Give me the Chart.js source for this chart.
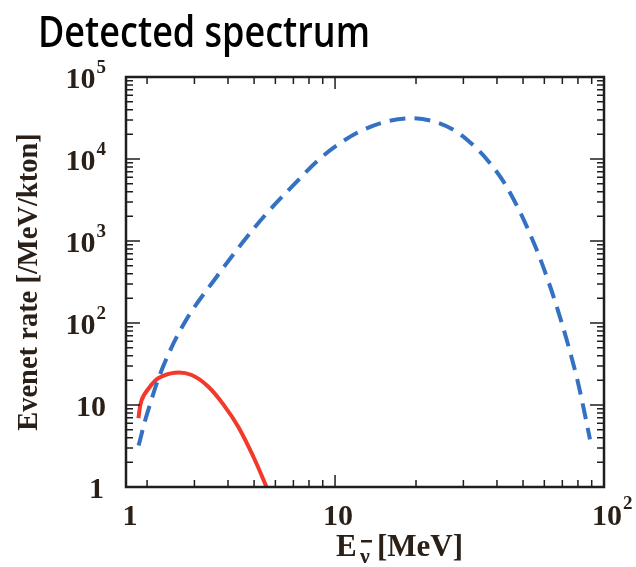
<!DOCTYPE html>
<html>
<head>
<meta charset="utf-8">
<script src="https://cdn.jsdelivr.net/npm/chart.js@4/dist/chart.umd.min.js"></script>
<style>
  html, body { margin: 0; padding: 0; background: #fff; }
  #wrap { width: 636px; height: 567px; }
</style>
</head>
<body>
<div id="wrap"><canvas id="spec"></canvas></div>
<script>
// energy [MeV] and event rate [/MeV/kton]
const blueE = [1.86, 2.0, 2.3, 2.8, 3.63, 4.5, 5.5, 7.0, 8.67, 10.4, 12.7, 15.8, 19.5, 23.9, 28.3, 33.1,
  37.7, 42.3, 47.3, 51.3, 56.2, 61.2, 66.7, 72.6, 79.1, 83.7, 88.7];
const blueRate = [3.2, 7.8, 30, 110, 367, 930, 2075, 4800, 9700, 15500, 22600, 29000, 31400, 28000, 21500, 14100,
  8870, 5290, 2750, 1570, 780, 370, 159, 63, 22, 9.6, 3.8];

const redE = [1.857, 1.91, 2.05, 2.2, 2.54, 2.93, 3.38, 3.9, 4.37, 4.97, 5.6];
const redRate = [6.9, 11.5, 16.7, 21.2, 24.8, 23.2, 16.7, 9.5, 5.4, 2.34, 0.95];

const xTicks = [2, 3, 4, 5, 6, 7, 8, 9, 10, 20, 30, 40, 50, 60, 70, 80, 90, 100];
const yTicks = [1, 2, 3, 4, 5, 6, 7, 8, 9, 10, 20, 30, 40, 50, 60, 70, 80, 90,
  100, 200, 300, 400, 500, 600, 700, 800, 900, 1000, 2000, 3000, 4000, 5000, 6000, 7000, 8000, 9000,
  10000, 20000, 30000, 40000, 50000, 60000, 70000, 80000, 90000, 100000];

const xMin = 1.67; // left edge of the plot, labelled "1" in the figure

function toPoints(xs, ys) {
  return xs.map((x, i) => ({ x: x, y: ys[i] }));
}

function isDecade(v) {
  const l = Math.log10(v);
  return Math.abs(l - Math.round(l)) < 1e-6;
}

const serif = '"Liberation Serif", "Times New Roman", serif';
const inkColor = '#2a2018';
const bigFont = 'bold 30px ' + serif;
const supFont = 'bold 19px ' + serif;

// frame, inward ticks on all four sides, tick labels, title and x label
const framePlugin = {
  id: 'frame',
  afterDraw(chart) {
    const ctx = chart.ctx;
    const a = chart.chartArea;
    const xs = chart.scales.x, ys = chart.scales.y;
    ctx.save();
    ctx.strokeStyle = '#1e1e1e';
    ctx.lineWidth = 1.5;
    xs.ticks.forEach(t => {
      if (t.value <= xMin || t.value >= 100) return;
      const px = xs.getPixelForValue(t.value);
      const len = isDecade(t.value) ? 12 : 7;
      ctx.beginPath();
      ctx.moveTo(px, a.bottom); ctx.lineTo(px, a.bottom - len);
      ctx.moveTo(px, a.top); ctx.lineTo(px, a.top + len);
      ctx.stroke();
    });
    ys.ticks.forEach(t => {
      if (t.value <= 1 || t.value >= 100000) return;
      const py = ys.getPixelForValue(t.value);
      const len = isDecade(t.value) ? 14 : 7;
      ctx.beginPath();
      ctx.moveTo(a.left, py); ctx.lineTo(a.left + len, py);
      ctx.moveTo(a.right, py); ctx.lineTo(a.right - len, py);
      ctx.stroke();
    });
    ctx.lineWidth = 2.5;
    ctx.strokeRect(a.left, a.top, a.right - a.left, a.bottom - a.top);

    // y tick labels, right aligned
    ctx.fillStyle = inkColor;
    ctx.textBaseline = 'alphabetic';
    ys.ticks.forEach(t => {
      if (!isDecade(t.value)) return;
      const py = ys.getPixelForValue(t.value);
      const e = Math.round(Math.log10(t.value));
      const right = 106;
      if (e <= 1) {
        ctx.font = bigFont;
        ctx.textAlign = 'right';
        ctx.fillText(e === 0 ? '1' : '10', e === 0 ? right - 2 : right, py + 10.5);
        return;
      }
      ctx.font = supFont;
      const ew = ctx.measureText(String(e)).width;
      ctx.textAlign = 'right';
      ctx.fillText(String(e), right, py - 4);
      ctx.font = bigFont;
      ctx.fillText('10', right - ew - 1, py + 10.5);
    });

    // x tick labels
    const base = a.bottom + 38;
    ctx.font = bigFont;
    ctx.textAlign = 'center';
    ctx.fillText('1', xs.getPixelForValue(xMin) + 4, base);
    ctx.fillText('10', xs.getPixelForValue(10) + 3, base);
    const x100 = xs.getPixelForValue(100);
    ctx.textAlign = 'left';
    ctx.fillText('10', x100 - 12, base);
    const w10 = ctx.measureText('10').width;
    ctx.font = supFont;
    ctx.fillText('2', x100 - 12 + w10 + 1, base - 16);

    // x axis label: E with anti-neutrino subscript
    ctx.font = 'bold 31px ' + serif;
    ctx.fillText('E', 336, 556);
    ctx.font = 'bold 22px ' + serif;
    ctx.fillText('\u03bd', 360, 563);
    ctx.fillRect(361, 540, 11, 2.5);
    ctx.font = 'bold 31px ' + serif;
    ctx.fillText('[MeV]', 377, 556);

    // title
    ctx.fillStyle = '#000';
    ctx.font = '600 44px "Open Sans", "Noto Sans", sans-serif';
    const title = 'Detected spectrum';
    const tw = ctx.measureText(title).width;
    ctx.translate(38, 47);
    ctx.scale(332 / tw, 1);
    ctx.fillText(title, 0, 0);
    ctx.restore();
  }
};

const ctx = document.getElementById('spec').getContext('2d');
new Chart(ctx, {
  type: 'line',
  data: {
    datasets: [
      {
        label: 'dashed',
        data: toPoints(blueE, blueRate),
        borderColor: '#3571c2',
        borderWidth: 4,
        borderDash: [16, 9],
        pointRadius: 0,
        tension: 0.35,
        fill: false
      },
      {
        label: 'solid',
        data: toPoints(redE, redRate),
        borderColor: '#f2392b',
        borderWidth: 4,
        pointRadius: 0,
        tension: 0.4,
        fill: false
      }
    ]
  },
  options: {
    responsive: true,
    maintainAspectRatio: false,
    animation: false,
    layout: { padding: { top: 77, right: 32, bottom: 0, left: 0 } },
    plugins: {
      legend: { display: false },
      tooltip: { enabled: false },
      title: { display: false }
    },
    scales: {
      x: {
        type: 'logarithmic',
        min: xMin,
        max: 100,
        grid: { display: false, drawTicks: false },
        border: { display: false },
        afterFit(scale) { scale.height = 80; },
        afterBuildTicks(scale) {
          scale.ticks = [xMin].concat(xTicks).map(v => ({ value: v }));
        },
        ticks: { display: false, autoSkip: false }
      },
      y: {
        type: 'logarithmic',
        min: 1,
        max: 100000,
        grid: { display: false, drawTicks: false },
        border: { display: false },
        afterFit(scale) { scale.width = 126; },
        afterBuildTicks(scale) {
          scale.ticks = yTicks.map(v => ({ value: v }));
        },
        title: {
          display: true,
          text: 'Evenet rate [/MeV/kton]',
          color: inkColor,
          font: { family: serif, size: 28.5, weight: 'bold' },
          padding: { top: 13, bottom: 0 }
        },
        ticks: { display: false, autoSkip: false }
      }
    }
  },
  plugins: [framePlugin]
});
</script>
</body>
</html>
